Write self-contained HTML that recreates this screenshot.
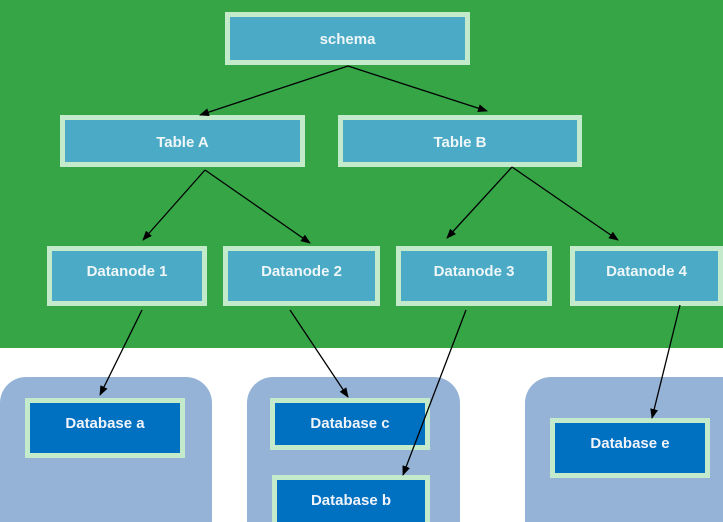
<!DOCTYPE html>
<html style="overflow:hidden;width:723px;height:522px"><head><style>
body{margin:0;width:723px;height:522px;overflow:hidden;position:relative;background:#fff;font-family:"Liberation Sans",sans-serif}
.g{position:absolute;left:0;top:0;width:723px;height:348px;background:#36a546}
.p{position:absolute;background:#95b3d7;border-radius:26px 26px 0 0}
.b{position:absolute;box-sizing:border-box;border:5px solid #c3ebcb;background:#4babc6;color:#eef6f8;font-weight:bold;font-size:15px;text-align:center;padding-top:12px}
.d{background:#0070c0;color:#f0f4fa}
svg{position:absolute;left:0;top:0}
</style></head><body>
<div class="g"></div>
<div class="p" style="left:0;top:377px;width:212px;height:145px"></div>
<div class="p" style="left:247px;top:377px;width:213px;height:145px"></div>
<div class="p" style="left:525px;top:377px;width:198px;height:145px;border-radius:26px 0 0 0"></div>
<div class="b" style="left:225px;top:12px;width:245px;height:53px;padding-top:14px">schema</div>
<div class="b" style="left:60px;top:115px;width:245px;height:52px;padding-top:14px">Table A</div>
<div class="b" style="left:338px;top:115px;width:244px;height:52px;padding-top:14px">Table B</div>
<div class="b" style="left:47px;top:246px;width:160px;height:60px">Datanode 1</div>
<div class="b" style="left:223px;top:246px;width:157px;height:60px">Datanode 2</div>
<div class="b" style="left:396px;top:246px;width:156px;height:60px">Datanode 3</div>
<div class="b" style="left:570px;top:246px;width:153px;height:60px">Datanode 4</div>
<div class="b d" style="left:25px;top:398px;width:160px;height:60px">Database a</div>
<div class="b d" style="left:270px;top:398px;width:160px;height:52px">Database c</div>
<div class="b d" style="left:272px;top:475px;width:158px;height:47px;border-bottom:0">Database b</div>
<div class="b d" style="left:550px;top:418px;width:160px;height:60px">Database e</div>
<svg width="723" height="522"><defs><marker id="a" markerWidth="10" markerHeight="8" refX="9" refY="4" orient="auto" markerUnits="userSpaceOnUse"><path d="M0,0L10,4L0,8z" fill="#000"/></marker></defs>
<g stroke="#000" stroke-width="1.3" marker-end="url(#a)">
<line x1="348" y1="66" x2="200" y2="115"/><line x1="348" y1="66" x2="487" y2="111"/>
<line x1="205" y1="170" x2="143" y2="240"/><line x1="205" y1="170" x2="310" y2="243"/>
<line x1="512" y1="167" x2="447" y2="238"/><line x1="512" y1="167" x2="618" y2="240"/>
<line x1="142" y1="310" x2="100" y2="395"/><line x1="290" y1="310" x2="348" y2="397"/>
<line x1="466" y1="310" x2="403" y2="475"/><line x1="680" y1="305" x2="652" y2="418"/>
</g></svg>
</body></html>
